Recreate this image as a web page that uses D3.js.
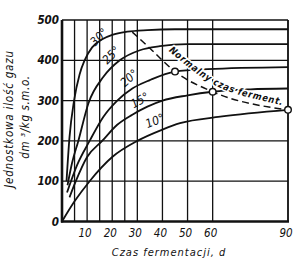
<!DOCTYPE html>
<html>
<head>
<meta charset="utf-8">
<script src="https://cdnjs.cloudflare.com/ajax/libs/d3/7.8.5/d3.min.js"></script>
<style>
	body { margin: 0; background: #fff; }
	svg text { font-family: "DejaVu Sans Condensed", "Liberation Sans Narrow", "DejaVu Sans", sans-serif; font-style: italic; fill: #111; }
</style>
</head>
<body>
<script>
// Data (days, gas yield dm3/kg)
const days30 = [1.8, 3, 4.8, 7, 9, 12, 16, 20, 26, 34, 45, 90];
const gas30 = [100, 210, 300, 365, 400, 432, 452, 463, 471, 475, 477, 477];
const days25 = [2.2, 4, 6.5, 10.5, 16.5, 23, 31, 39, 50, 90];
const gas25 = [90, 145, 200, 293, 359, 400, 425, 435, 440, 440];
const days20 = [2, 6, 11, 16.5, 22, 28, 35, 45, 58, 90];
const gas20 = [72, 140, 200, 260, 300, 330, 351, 372, 378, 383];
const days15 = [3, 5.5, 10, 16, 22, 28, 34, 40, 50, 60, 75, 90];
const gas15 = [60, 100, 160, 200, 240, 265, 285, 300, 313, 322, 328, 330];
const days10 = [0, 5, 11, 20, 30, 40, 47, 63, 90];
const gas10 = [0, 50, 100, 160, 200, 228, 244, 260, 277];

// "Normalny czas fermentacji" dashed line and its markers
const normDays = [28, 35, 45, 60, 90];
const normGas = [470, 430, 372, 322, 277];
const markerDays = [45, 60, 90];
const markerGas = [372, 322, 277];

const xTicks = [10, 20, 30, 40, 50, 60, 90];
const xGrid = [5, 10, 15, 20, 25, 30, 40, 50, 60, 90];
const yTicks = [0, 100, 200, 300, 400, 500];
const tempLabels = ["30°", "25°", "20°", "15°", "10°"];

const width = 300;
const height = 261;

const x = d3.scaleLinear().domain([0, 90]).range([62, 288]);
const y = d3.scaleLinear().domain([0, 500]).range([221.5, 20]);

const svg = d3
	.select("body")
	.append("svg")
	.attr("width", width)
	.attr("height", height);

// grid
svg.append("g")
	.selectAll("line")
	.data(xGrid)
	.enter()
	.append("line")
	.attr("x1", (d) => x(d))
	.attr("x2", (d) => x(d))
	.attr("y1", y(0))
	.attr("y2", y(500))
	.attr("stroke", "#111")
	.attr("stroke-width", 1.3);

svg.append("g")
	.selectAll("line")
	.data([100, 200, 300, 400, 500])
	.enter()
	.append("line")
	.attr("x1", x(0))
	.attr("x2", (d) => (d === 300 ? x(40) : x(90)))
	.attr("y1", (d) => y(d))
	.attr("y2", (d) => y(d))
	.attr("stroke", "#111")
	.attr("stroke-width", 1.3);

// right border
svg.append("line")
	.attr("x1", x(90)).attr("x2", x(90))
	.attr("y1", y(0)).attr("y2", y(500))
	.attr("stroke", "#111").attr("stroke-width", 1.5);

// axes
svg.append("line")
	.attr("x1", x(0)).attr("x2", x(0))
	.attr("y1", y(0) + 1).attr("y2", y(500))
	.attr("stroke", "#111").attr("stroke-width", 2.6);
svg.append("line")
	.attr("x1", x(0) - 1).attr("x2", x(90) + 1)
	.attr("y1", y(0)).attr("y2", y(0))
	.attr("stroke", "#111").attr("stroke-width", 2.6);

// curves
const line = d3
	.line()
	.x((d) => x(d[0]))
	.y((d) => y(d[1]))
	.curve(d3.curveMonotoneX);

const series = [
	d3.zip(days30, gas30),
	d3.zip(days25, gas25),
	d3.zip(days20, gas20),
	d3.zip(days15, gas15),
	d3.zip(days10, gas10),
];

svg.append("g")
	.selectAll("path")
	.data(series)
	.enter()
	.append("path")
	.attr("d", line)
	.attr("fill", "none")
	.attr("stroke", "#111")
	.attr("stroke-width", 1.8);

// temperature labels
const tempPos = [[14.7, 458, -45], [19.5, 413, -45], [26.7, 356, -42], [31, 301, -30], [37, 250, -22]];
svg.append("g")
	.selectAll("text")
	.data(tempLabels)
	.enter()
	.append("text")
	.attr("transform", (d, i) => "translate(" + x(tempPos[i][0]) + "," + y(tempPos[i][1]) + ") rotate(" + tempPos[i][2] + ")")
	.attr("text-anchor", "middle")
	.attr("dy", "0.35em")
	.attr("font-size", 12)
	.text((d) => d);

// label along the normal-time line
const labelPath = [[42.4, 423], [57.8, 344], [69, 314], [89.6, 286]];
svg.append("path")
	.attr("id", "normPath")
	.attr("d", d3.line().x((d) => x(d[0])).y((d) => y(d[1])).curve(d3.curveBasis)(labelPath))
	.attr("fill", "none");

svg.append("text")
	.attr("font-size", 9.5)
	.attr("font-weight", "bold")
	.attr("stroke", "#fff")
	.attr("stroke-width", 3)
	.attr("paint-order", "stroke")
	.append("textPath")
	.attr("href", "#normPath")
	.attr("textLength", 128)
	.attr("lengthAdjust", "spacing")
	.text("Normalny czas ferment.");

// dashed line
svg.append("path")
	.attr("d", line(d3.zip(normDays, normGas)))
	.attr("fill", "none")
	.attr("stroke", "#111")
	.attr("stroke-width", 1.5)
	.attr("stroke-dasharray", "7,4");

svg.append("g")
	.selectAll("circle")
	.data(d3.zip(markerDays, markerGas))
	.enter()
	.append("circle")
	.attr("cx", (d) => x(d[0]))
	.attr("cy", (d) => y(d[1]))
	.attr("r", 3.3)
	.attr("fill", "#fff")
	.attr("stroke", "#111")
	.attr("stroke-width", 1.4);

// tick labels
svg.append("g")
	.selectAll("text")
	.data(yTicks)
	.enter()
	.append("text")
	.attr("x", x(0) - 3)
	.attr("y", (d) => y(d))
	.attr("dy", "0.35em")
	.attr("text-anchor", "end")
	.attr("font-size", 11.5)
	.attr("font-weight", "bold")
	.text((d) => d);

svg.append("g")
	.selectAll("text")
	.data(xTicks)
	.enter()
	.append("text")
	.attr("x", (d) => x(d) - 2)
	.attr("y", 237)
	.attr("text-anchor", "middle")
	.attr("font-size", 11.5)
	.text((d) => d);

// axis titles
svg.append("text")
	.attr("x", 169)
	.attr("y", 256)
	.attr("text-anchor", "middle")
	.attr("font-size", 11)
	.attr("letter-spacing", 1)
	.text("Czas fermentacji, d");

svg.append("text")
	.attr("transform", "translate(13,119) rotate(-90)")
	.attr("text-anchor", "middle")
	.attr("font-size", 11.5)
	.attr("letter-spacing", 0.8)
	.text("Jednostkowa ilość gazu");

svg.append("text")
	.attr("transform", "translate(29,117) rotate(-90)")
	.attr("text-anchor", "middle")
	.attr("font-size", 11.5)
	.attr("letter-spacing", 0.6)
	.text("dm ³/kg s.m.o.");
</script>
</body>
</html>
